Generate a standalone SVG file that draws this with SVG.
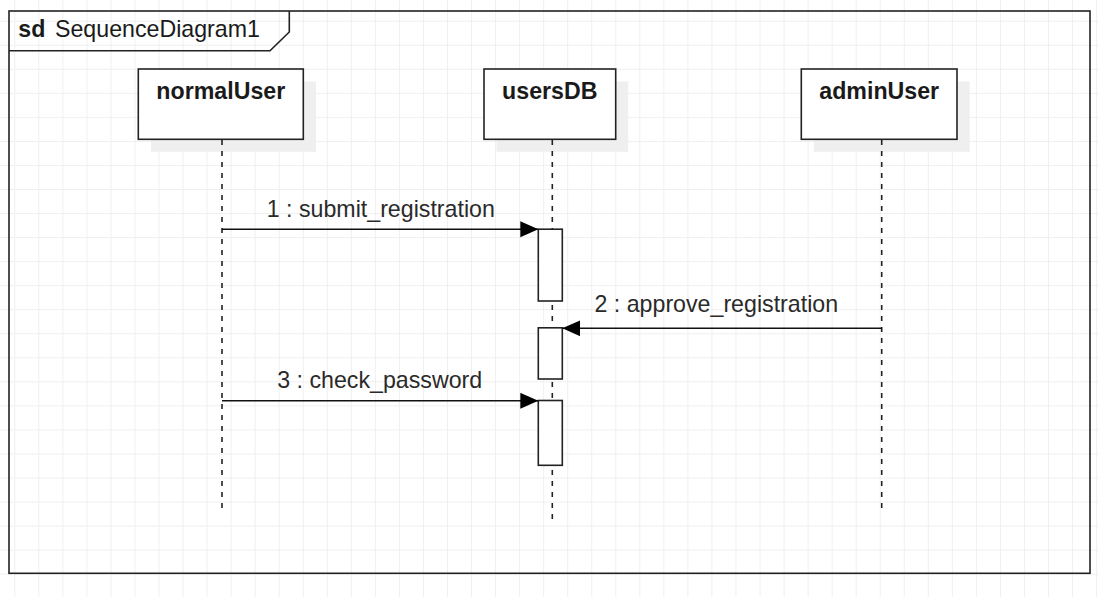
<svg xmlns="http://www.w3.org/2000/svg" width="1099" height="597" viewBox="0 0 1099 597">
  <defs>
    <pattern id="grid" patternUnits="userSpaceOnUse" x="14.3" y="-3.3" width="24.04" height="24.04">
      <path d="M0.5 0 V24.04 M0 0.5 H24.04" fill="none" stroke="#efefef" stroke-width="1"/>
    </pattern>
    <marker id="arrow" markerUnits="userSpaceOnUse" markerWidth="20" markerHeight="18" refX="18" refY="8" orient="auto">
      <path d="M0 0 L18 8 L0 16 Z" fill="#000"/>
    </marker>
    <style>
      .frame { fill: none; stroke: #222; stroke-width: 1.6; }
      .box { fill: #fff; stroke: #222; stroke-width: 1.6; }
      .shadow { fill: #efefef; stroke: none; }
      .life { fill: none; stroke: #222; stroke-width: 1.6; stroke-dasharray: 5 6; }
      .act { fill: #fff; stroke: #222; stroke-width: 1.6; }
      .msg { fill: none; stroke: #111; stroke-width: 1.5; marker-end: url(#arrow); }
      .name { font-family: "Liberation Sans", Arial, sans-serif; font-size: 23.2px; font-weight: bold; fill: #1a1a1a; text-anchor: middle; }
      .lbl { font-family: "Liberation Sans", Arial, sans-serif; font-size: 23.2px; fill: #2a2a2a; text-anchor: middle; }
      .title { font-family: "Liberation Sans", Arial, sans-serif; font-size: 23.2px; fill: #1a1a1a; }
    </style>
  </defs>
  <rect x="0" y="0" width="1099" height="597" fill="#fff"/>
  <rect x="0" y="0" width="1099" height="597" fill="url(#grid)"/>

  <g id="frame">
    <rect class="frame" x="9" y="11" width="1081" height="562.3"/>
    <path class="frame" d="M9 50.7 H270 L289.3 32 V11"/>
    <text class="title" x="18.3" y="36.7"><tspan font-weight="bold">sd</tspan><tspan x="55">SequenceDiagram1</tspan></text>
  </g>

  <g id="normalUser">
    <rect class="shadow" x="151" y="81.5" width="165" height="70.3"/>
    <rect class="box" x="138.3" y="69" width="165" height="70.3"/>
    <text class="name" x="220.8" y="99">normalUser</text>
    <line class="life" x1="222" y1="140" x2="222" y2="514"/>
  </g>

  <g id="usersDB">
    <rect class="shadow" x="496.5" y="81.5" width="131.7" height="70.3"/>
    <rect class="box" x="484" y="69" width="131.7" height="70.3"/>
    <text class="name" x="549.8" y="99">usersDB</text>
    <line class="life" x1="552.3" y1="140" x2="552.3" y2="525"/>
  </g>

  <g id="adminUser">
    <rect class="shadow" x="814" y="81.5" width="155.7" height="70.3"/>
    <rect class="box" x="801.3" y="69" width="155.7" height="70.3"/>
    <text class="name" x="879.2" y="99">adminUser</text>
    <line class="life" x1="881.7" y1="140" x2="881.7" y2="514"/>
  </g>

  <g id="activations">
    <rect class="act" x="538.3" y="229.2" width="24" height="71.8"/>
    <rect class="act" x="538.3" y="327.8" width="24" height="51.2"/>
    <rect class="act" x="538.3" y="400.5" width="24" height="64.8"/>
  </g>

  <g id="connectors">
    <line class="msg" x1="222" y1="229.3" x2="538.3" y2="229.3"/>
    <text class="lbl" x="380.8" y="217.3">1 : submit_registration</text>
    <line class="msg" x1="881.7" y1="328.3" x2="562.3" y2="328.3"/>
    <text class="lbl" x="716.3" y="311.7">2 : approve_registration</text>
    <line class="msg" x1="222" y1="400.8" x2="538.3" y2="400.8"/>
    <text class="lbl" x="379.7" y="388.3">3 : check_password</text>
  </g>
</svg>
